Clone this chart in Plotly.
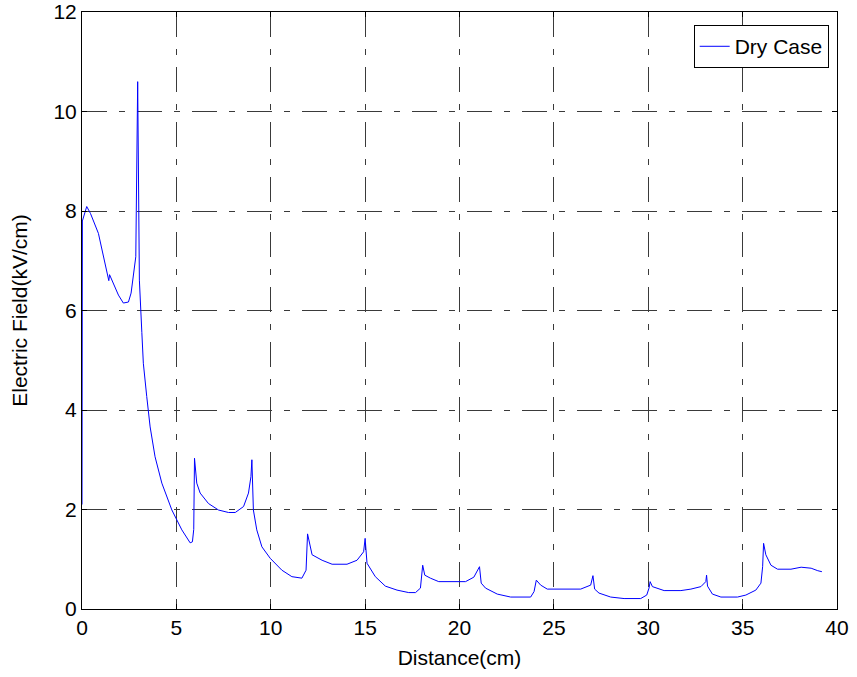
import plotly.graph_objects as go

distance_cm = [0, 0.02, 0.25, 0.45, 0.87, 1.22, 1.38, 1.42, 1.46, 1.93, 2.19, 2.46, 2.6, 2.72, 2.85,
               2.95, 3.04, 3.17, 3.25, 3.43, 3.61, 3.87, 4.23, 4.76, 5.29, 5.73, 5.85, 5.92, 5.96,
               6.08, 6.26, 6.7, 7.23, 7.76, 8.12, 8.56, 8.82, 8.95, 9.0, 9.08, 9.26, 9.53, 9.97,
               10.59, 11.12, 11.65, 11.87, 11.95, 12.1, 12.19, 12.72, 13.25, 14.04, 14.57, 14.92,
               15.0, 15.1, 15.28, 15.54, 16.07, 16.69, 17.31, 17.67, 17.93, 18.0, 18.05, 18.16,
               18.46, 18.9, 20.32, 20.76, 20.94, 21.06, 21.15, 21.38, 22.0, 22.71, 23.77, 23.95,
               24.07, 24.3, 24.65, 26.42, 26.95, 27.07, 27.16, 27.39, 28.01, 28.72, 29.6, 29.92,
               30.04, 30.1, 30.22, 30.84, 31.73, 32.26, 32.79, 33.05, 33.09, 33.14, 33.4, 33.85,
               34.73, 35.17, 35.7, 35.97, 36.06, 36.11, 36.23, 36.5, 36.85, 37.56, 38.1, 38.63,
               38.98, 39.2]

field_kv_cm = [2.1, 7.8, 8.09, 7.95, 7.55, 6.95, 6.7, 6.6, 6.72, 6.31, 6.15, 6.17, 6.35, 6.68, 7.08,
               10.6, 6.61, 5.56, 4.94, 4.27, 3.66, 3.06, 2.53, 1.99, 1.59, 1.33, 1.35, 1.6, 3.03,
               2.53, 2.33, 2.12, 1.99, 1.94, 1.94, 2.06, 2.33, 2.66, 3.0, 1.99, 1.59, 1.25, 1.02,
               0.78, 0.65, 0.62, 0.78, 1.51, 1.25, 1.09, 0.98, 0.9, 0.9, 0.98, 1.15,
               1.42, 0.92, 0.8, 0.65, 0.46, 0.38, 0.33, 0.33, 0.42, 0.65, 0.88, 0.68,
               0.62, 0.55, 0.55, 0.64, 0.75, 0.85, 0.52, 0.42, 0.3, 0.24, 0.24, 0.35,
               0.58, 0.48, 0.4, 0.4, 0.48, 0.67, 0.4, 0.32, 0.24, 0.21, 0.21, 0.28,
               0.42, 0.55, 0.45, 0.37, 0.37, 0.4, 0.45, 0.55, 0.68, 0.46, 0.3, 0.24,
               0.24, 0.28, 0.38, 0.52, 0.85, 1.32, 1.09, 0.88, 0.8, 0.8, 0.84, 0.82,
               0.77, 0.75]

x_ticks = [0, 5, 10, 15, 20, 25, 30, 35, 40]
y_ticks = [0, 2, 4, 6, 8, 10, 12]

fig = go.Figure()
fig.add_trace(go.Scatter(x=distance_cm, y=field_kv_cm, mode="lines", name="Dry Case",
                         line=dict(color="#0000ff", width=1)))

font = dict(family="Liberation Sans, Arial, sans-serif", size=21, color="black")
axis_common = dict(showline=True, linecolor="black", linewidth=1, mirror="allticks",
                   ticks="inside", ticklen=5, tickcolor="black", showgrid=True,
                   gridcolor="#3a3a3a", gridwidth=1, griddash="25px,12px,6px,12px",
                   zeroline=False, tickfont=font, automargin=False)

fig.update_layout(
    width=857, height=677,
    margin=dict(l=82, r=20, t=12, b=68),
    paper_bgcolor="white", plot_bgcolor="white",
    font=font,
    showlegend=True,
    legend=dict(x=0.989, y=0.978, xanchor="right", yanchor="top",
                bgcolor="white", bordercolor="black", borderwidth=1,
                font=font, itemwidth=30),
    xaxis=dict(range=[0, 40], tickvals=x_ticks, title=dict(text="Distance(cm)", font=font, standoff=12),
               **axis_common),
    yaxis=dict(range=[0, 12], tickvals=y_ticks, title=dict(text="Electric Field(kV/cm)", font=font, standoff=20),
               **axis_common),
)

fig.write_html("out.html")
